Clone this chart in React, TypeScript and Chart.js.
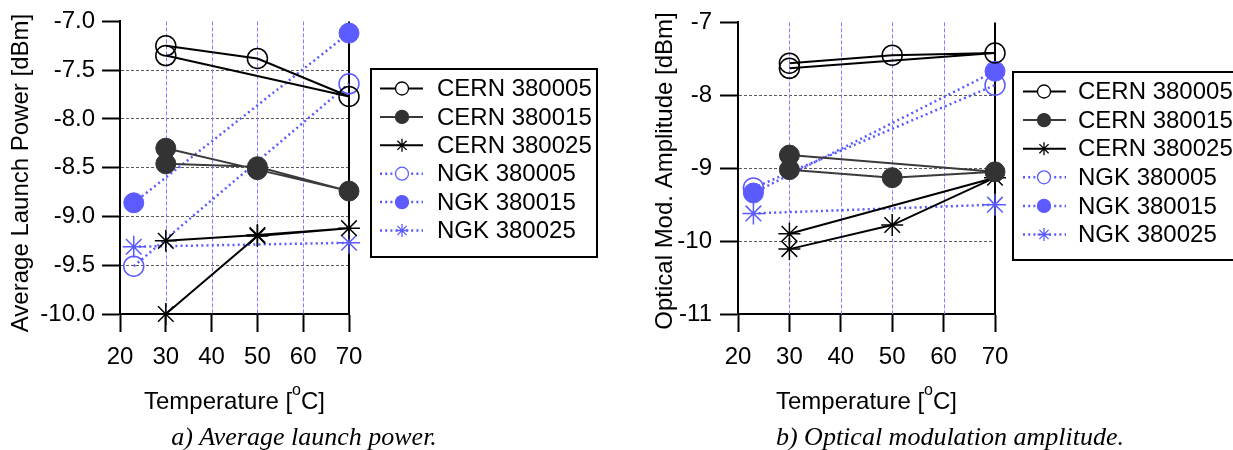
import React, { useEffect, useRef } from 'react';
import { Chart, registerables } from 'chart.js';
Chart.register(...registerables);

const SANS = '"Liberation Sans", Arial, Helvetica, sans-serif';
const SERIF = '"Liberation Serif", "Times New Roman", serif';

// ---------- data ----------
const seriesNames = ['CERN 380005', 'CERN 380015', 'CERN 380025', 'NGK 380005', 'NGK 380015', 'NGK 380025'];
const xTickValues = [20, 30, 40, 50, 60, 70];
const xGridValues = [30, 40, 50, 60];
const yTicksA = [-10.0, -9.5, -9.0, -8.5, -8.0, -7.5, -7.0];
const yTicksB = [-11, -10, -9, -8, -7];

// a) Average launch power [dBm]  (two measurement runs per CERN device, joined in one trace)
const tempA_C005 = [30, 50, 70, 30];
const powA_C005 = [-7.25, -7.38, -7.77, -7.35];
const tempA_C015 = [30, 50, 70, 50, 30];
const powA_C015 = [-8.46, -8.49, -8.74, -8.52, -8.3];
const tempA_C025 = [30, 50, 70, 50, 30];
const powA_C025 = [-10.0, -9.2, -9.12, -9.19, -9.25];
const tempA_N005 = [23, 70];
const powA_N005 = [-9.51, -7.64];
const tempA_N015 = [23, 70];
const powA_N015 = [-8.86, -7.12];
const tempA_N025 = [23, 70];
const powA_N025 = [-9.31, -9.27];

// b) Optical modulation amplitude [dBm]
const tempB_C005 = [30, 50, 70, 30];
const omaB_C005 = [-7.56, -7.45, -7.42, -7.63];
const tempB_C015 = [30, 50, 70, 30];
const omaB_C015 = [-9.02, -9.13, -9.05, -8.82];
const tempB_C025 = [30, 50, 70, 30];
const omaB_C025 = [-10.11, -9.78, -9.13, -9.9];
const tempB_N005 = [23, 70];
const omaB_N005 = [-9.27, -7.86];
const tempB_N015 = [23, 70];
const omaB_N015 = [-9.34, -7.67];
const tempB_N025 = [23, 70];
const omaB_N025 = [-9.62, -9.5];

// ---------- styles ----------
const BLUE = '#5b5bff';
const GRID_BLUE = '#7f7fff';
const DOT = [2, 3.2];
const STYLES = [
  { line: '#000', lw: 2, dash: [] as number[], pstyle: 'circle', pcol: '#000', pfill: 'rgba(0,0,0,0)', r: 10, pw: 1.5 },
  { line: '#3a3a3a', lw: 2, dash: [] as number[], pstyle: 'circle', pcol: '#333', pfill: '#333', r: 10, pw: 1 },
  { line: '#000', lw: 2, dash: [] as number[], pstyle: 'star', pcol: '#000', pfill: '#000', r: 11, pw: 1.5 },
  { line: BLUE, lw: 2.5, dash: DOT, pstyle: 'circle', pcol: BLUE, pfill: 'rgba(0,0,0,0)', r: 10, pw: 1.5 },
  { line: BLUE, lw: 2.5, dash: DOT, pstyle: 'circle', pcol: BLUE, pfill: BLUE, r: 10, pw: 1 },
  { line: BLUE, lw: 2.5, dash: DOT, pstyle: 'star', pcol: BLUE, pfill: BLUE, r: 11, pw: 1.5 },
];

function drawMarker(ctx: CanvasRenderingContext2D, style: string, x: number, y: number, r: number, stroke: string, fill: string, lw: number) {
  ctx.save();
  ctx.setLineDash([]);
  ctx.lineWidth = lw;
  ctx.strokeStyle = stroke;
  ctx.fillStyle = fill;
  if (style === 'circle') {
    ctx.beginPath();
    ctx.arc(x, y, r, 0, Math.PI * 2);
    ctx.fill();
    ctx.stroke();
  } else {
    ctx.beginPath();
    for (let k = 0; k < 4; k++) {
      const a = (k * Math.PI) / 4;
      ctx.moveTo(x - r * Math.cos(a), y - r * Math.sin(a));
      ctx.lineTo(x + r * Math.cos(a), y + r * Math.sin(a));
    }
    ctx.stroke();
  }
  ctx.restore();
}

function drawTempTitle(ctx: CanvasRenderingContext2D, cx: number, baseline: number) {
  const big = `24px ${SANS}`;
  const small = `16px ${SANS}`;
  ctx.save();
  ctx.fillStyle = '#000';
  ctx.textAlign = 'left';
  ctx.textBaseline = 'alphabetic';
  ctx.font = big;
  const w1 = ctx.measureText('Temperature [').width;
  const w3 = ctx.measureText('C]').width;
  ctx.font = small;
  const w2 = ctx.measureText('o').width;
  let x = cx - (w1 + w2 + w3) / 2;
  ctx.font = big;
  ctx.fillText('Temperature [', x, baseline);
  x += w1;
  ctx.font = small;
  ctx.fillText('o', x, baseline - 14);
  x += w2;
  ctx.font = big;
  ctx.fillText('C]', x, baseline);
  ctx.restore();
}

type Decor = {
  yTitle: string; yTitleX: number; yTitleY: number;
  xTitleBaseline: number;
  caption: string; captionX: number; captionBaseline: number;
  box: { x: number; y: number; w: number; h: number };
  row0: number; rowStep: number; lx1: number; lx2: number; mx: number; tx: number;
};

// vertical grid (blue dashed) and right frame line, drawn under the datasets
const gridPlugin = {
  id: 'vgrid',
  beforeDatasetsDraw(chart: any) {
    const ctx: CanvasRenderingContext2D = chart.ctx;
    const area = chart.chartArea;
    const xs = chart.scales.x;
    ctx.save();
    ctx.strokeStyle = GRID_BLUE;
    ctx.lineWidth = 1;
    ctx.setLineDash([4, 2]);
    xGridValues.forEach((v) => {
      const px = Math.round(xs.getPixelForValue(v)) + 0.5;
      ctx.beginPath();
      ctx.moveTo(px, area.top);
      ctx.lineTo(px, area.bottom);
      ctx.stroke();
    });
    ctx.setLineDash([]);
    ctx.strokeStyle = '#000';
    ctx.lineWidth = 2;
    const rx = Math.round(xs.getPixelForValue(70));
    ctx.beginPath();
    ctx.moveTo(rx, area.top);
    ctx.lineTo(rx, area.bottom);
    ctx.stroke();
    ctx.restore();
  },
};

function decorPlugin(d: Decor) {
  return {
    id: 'decor',
    afterDraw(chart: any) {
      const ctx: CanvasRenderingContext2D = chart.ctx;
      const area = chart.chartArea;
      // y title
      ctx.save();
      ctx.fillStyle = '#000';
      ctx.font = `24px ${SANS}`;
      ctx.translate(d.yTitleX, d.yTitleY);
      ctx.rotate(-Math.PI / 2);
      ctx.textAlign = 'center';
      ctx.textBaseline = 'middle';
      ctx.fillText(d.yTitle, 0, 0);
      ctx.restore();
      // x title
      drawTempTitle(ctx, (area.left + area.right) / 2, d.xTitleBaseline);
      // caption
      ctx.save();
      ctx.fillStyle = '#000';
      ctx.font = `italic 26px ${SERIF}`;
      ctx.textAlign = 'center';
      ctx.textBaseline = 'alphabetic';
      ctx.fillText(d.caption, d.captionX, d.captionBaseline);
      ctx.restore();
      // legend
      ctx.save();
      ctx.lineWidth = 2;
      ctx.strokeStyle = '#000';
      ctx.strokeRect(d.box.x, d.box.y, d.box.w, d.box.h);
      chart.data.datasets.forEach((ds: any, i: number) => {
        const st = STYLES[i];
        const y = d.row0 + i * d.rowStep;
        ctx.save();
        ctx.strokeStyle = st.line;
        ctx.lineWidth = st.lw;
        ctx.setLineDash(st.dash);
        ctx.beginPath();
        ctx.moveTo(d.lx1, y);
        ctx.lineTo(d.lx2, y);
        ctx.stroke();
        ctx.restore();
        drawMarker(ctx, st.pstyle, d.mx, y, 6.5, st.pcol, st.pfill === 'rgba(0,0,0,0)' ? '#fff' : st.pfill, 1.3);
        ctx.fillStyle = '#000';
        ctx.font = `24px ${SANS}`;
        ctx.textAlign = 'left';
        ctx.textBaseline = 'middle';
        ctx.fillText(ds.label, d.tx, y + 1);
      });
      ctx.restore();
    },
  };
}

type PanelSpec = {
  xs: number[][]; ys: number[][];
  yTicks: number[]; yFmt: (v: number) => string;
  yWidth: number; padRight: number; yPad: number;
  decor: Decor;
};

function makeConfig(p: PanelSpec): any {
  const datasets = p.xs.map((xarr, i) => {
    const st = STYLES[i];
    return {
      label: seriesNames[i],
      data: xarr.map((x, j) => ({ x, y: p.ys[i][j] })),
      borderColor: st.line,
      borderWidth: st.lw,
      borderDash: st.dash,
      pointStyle: st.pstyle,
      pointRadius: st.r,
      pointHoverRadius: st.r,
      pointBorderColor: st.pcol,
      pointBackgroundColor: st.pfill,
      pointBorderWidth: st.pw,
      showLine: true,
      fill: false,
      tension: 0,
      clip: false,
    };
  });
  const yMin = p.yTicks[0];
  const yMax = p.yTicks[p.yTicks.length - 1];
  return {
    type: 'line',
    data: { datasets },
    plugins: [gridPlugin, decorPlugin(p.decor)],
    options: {
      animation: false,
      responsive: false,
      events: [],
      layout: { padding: { left: 0, top: 20, right: p.padRight, bottom: 86 } },
      plugins: { legend: { display: false }, tooltip: { enabled: false } },
      scales: {
        x: {
          type: 'linear',
          min: 20,
          max: 70,
          afterBuildTicks: (s: any) => { s.ticks = xTickValues.map((v) => ({ value: v })); },
          afterFit: (s: any) => { s.height = 50; },
          ticks: { font: { family: SANS, size: 24 }, color: '#000', padding: 11, autoSkip: false, maxRotation: 0, callback: (v: any) => String(v) },
          grid: {
            drawOnChartArea: false,
            color: '#000',
            tickColor: '#000',
            tickLength: 18,
            tickWidth: 2,
          },
          border: { display: true, color: '#000', width: 2 },
        },
        y: {
          type: 'linear',
          min: yMin,
          max: yMax,
          afterBuildTicks: (s: any) => { s.ticks = p.yTicks.map((v) => ({ value: v })); },
          afterFit: (s: any) => { s.width = p.yWidth; },
          ticks: { font: { family: SANS, size: 24 }, color: '#000', padding: p.yPad, autoSkip: false, callback: (v: any) => p.yFmt(Number(v)) },
          grid: {
            color: (c: any) => {
              const v = c.tick ? c.tick.value : 0;
              if (v === yMin || v === yMax) return 'rgba(0,0,0,0)';
              return '#5a5a5a';
            },
            lineWidth: 1,
            tickColor: '#000',
            tickLength: 18,
            tickWidth: 2,
          },
          border: { display: true, color: '#000', width: 2, dash: [3, 2] },
        },
      },
    },
  };
}

const panelA: PanelSpec = {
  xs: [tempA_C005, tempA_C015, tempA_C025, tempA_N005, tempA_N015, tempA_N025],
  ys: [powA_C005, powA_C015, powA_C025, powA_N005, powA_N015, powA_N025],
  yTicks: yTicksA,
  yFmt: (v) => v.toFixed(1),
  yWidth: 120,
  padRight: 616 - 349,
  yPad: 7,
  decor: {
    yTitle: 'Average Launch Power [dBm]', yTitleX: 21, yTitleY: 173,
    xTitleBaseline: 409,
    caption: 'a) Average launch power.', captionX: 304, captionBaseline: 445,
    box: { x: 371, y: 69, w: 226, h: 188 },
    row0: 88.5, rowStep: 28.4, lx1: 380, lx2: 423, mx: 402, tx: 437,
  },
};

const panelB: PanelSpec = {
  xs: [tempB_C005, tempB_C015, tempB_C025, tempB_N005, tempB_N015, tempB_N025],
  ys: [omaB_C005, omaB_C015, omaB_C025, omaB_N005, omaB_N015, omaB_N025],
  yTicks: yTicksB,
  yFmt: (v) => String(Math.round(v)),
  yWidth: 122,
  padRight: 617 - 379,
  yPad: 8,
  decor: {
    yTitle: 'Optical Mod. Amplitude [dBm]', yTitleX: 49, yTitleY: 171,
    xTitleBaseline: 409,
    caption: 'b) Optical modulation amplitude.', captionX: 334, captionBaseline: 445,
    box: { x: 397, y: 72, w: 300, h: 188 },
    row0: 91.5, rowStep: 28.6, lx1: 407, lx2: 450, mx: 428, tx: 462,
  },
};

function Panel({ spec, left, width }: { spec: PanelSpec; left: number; width: number }) {
  const ref = useRef<HTMLCanvasElement>(null);
  useEffect(() => {
    const chart = new Chart(ref.current as HTMLCanvasElement, makeConfig(spec));
    return () => chart.destroy();
  }, []);
  return (
    <canvas
      ref={ref}
      width={width}
      height={450}
      style={{ position: 'absolute', left, top: 0, width, height: 450, display: 'block' }}
    />
  );
}

export default function App() {
  return (
    <div style={{ position: 'absolute', left: 0, top: 0, width: 1233, height: 450, background: '#fff', overflow: 'hidden' }}>
      <Panel spec={panelA} left={0} width={616} />
      <Panel spec={panelB} left={616} width={617} />
    </div>
  );
}
